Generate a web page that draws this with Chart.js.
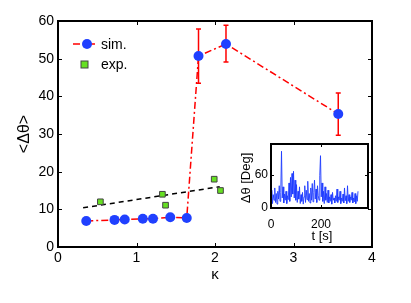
<!DOCTYPE html>
<html>
<head>
<meta charset="utf-8">
<script src="https://cdn.jsdelivr.net/npm/chart.js@4.4.1/dist/chart.umd.min.js"></script>
<style>
  html, body { margin: 0; padding: 0; background: #fff; }
  #wrap { position: relative; width: 411px; height: 303px; }
  #mainChart { position: absolute; left: 0; top: 0; }
  #insetChart { position: absolute; left: 228px; top: 130px; }
</style>
</head>
<body>
<div id="wrap">
  <canvas id="mainChart" width="411" height="303"></canvas>
  <canvas id="insetChart" width="145" height="125"></canvas>
</div>
<script>
// simulation points (kappa, mean angle) and error bars
const simK = [0.36, 0.72, 0.85, 1.08, 1.21, 1.43, 1.64, 1.79, 2.14, 3.57];
const simTheta = [6.9, 7.2, 7.3, 7.5, 7.5, 7.9, 7.7, 50.7, 53.9, 35.3];
const simErrLow = [null, null, null, null, null, null, null, 43.5, 49.1, 29.7];
const simErrHigh = [null, null, null, null, null, null, null, 57.9, 58.9, 40.9];

// experiment points
const expK = [0.54, 1.33, 1.37, 1.99, 2.07];
const expTheta = [12.0, 14.0, 11.1, 18.0, 15.0];

// dashed fit through the experiment
const fitK = [0.32, 2.06];
const fitTheta = [10.4, 16.0];

// inset time series, t in seconds and angle in degrees
const insetT = [0, 3, 6, 9, 12, 15, 18, 21, 24, 27, 30, 33, 36, 39, 42, 45, 48, 51, 54, 57,
  60, 63, 66, 69, 72, 75, 78, 81, 84, 87, 90, 93, 96, 99, 102, 105, 108, 111, 114, 117,
  120, 123, 126, 129, 132, 135, 138, 141, 144, 147, 150, 153, 156, 159, 162, 165, 168, 171, 174, 177,
  180, 183, 186, 189, 192, 195, 198, 201, 204, 207, 210, 213, 216, 219, 222, 225, 228, 231, 234, 237,
  240, 243, 246, 249, 252, 255, 258, 261, 264, 267, 270, 273, 276, 279, 282, 285, 288, 291, 294, 297,
  300, 303, 306, 309, 312, 315, 318, 321, 324, 327, 330, 333, 336, 339, 342, 345, 348];
const insetDeg = [12, 32, 8, 24, 14, 36, 10, 26, 7, 30, 16, 40, 12, 28, 102, 18, 38, 9, 25, 14,
  30, 8, 22, 15, 45, 12, 55, 20, 62, 25, 66, 18, 50, 14, 42, 10, 30, 16, 38, 8,
  24, 12, 28, 7, 20, 40, 10, 32, 15, 48, 12, 26, 9, 36, 14, 44, 11, 28, 50, 16,
  34, 10, 40, 22, 14, 58, 94, 20, 45, 12, 30, 8, 38, 14, 26, 10, 32, 9, 20, 12,
  24, 7, 28, 14, 18, 9, 22, 12, 34, 10, 20, 14, 30, 8, 18, 12, 25, 9, 36, 13,
  22, 8, 40, 12, 24, 10, 20, 14, 28, 9, 18, 11, 26, 8, 22, 12, 30];

const mainTicksX = [0, 1, 2, 3, 4];
const mainTicksY = [0, 10, 20, 30, 40, 50, 60];
const insetTicksX = [0, 200];
const insetTicksY = [0, 60];

const FONT = '"Liberation Sans", Arial, Helvetica, sans-serif';
Chart.defaults.font.family = FONT;
Chart.defaults.font.size = 14;
Chart.defaults.color = '#000';

const BLUE = 'rgb(32,64,255)';
const RED = '#ff0000';
const GREEN = '#66e022';

function pts(xs, ys) {
    return xs.map((x, i) => ({ x: x, y: ys[i] }));
}

function fixedTicks(values) {
    return scale => { scale.ticks = values.map(v => ({ value: v })); };
}

// box with inward ticks on all four sides
function drawBox(chart, ticksX, ticksY, len) {
    const ctx = chart.ctx;
    const a = chart.chartArea;
    const sx = chart.scales.x, sy = chart.scales.y;
    ctx.save();
    ctx.strokeStyle = '#000';
    ctx.lineWidth = 1;
    ticksX.forEach(v => {
        const px = Math.round(sx.getPixelForValue(v)) + 0.5;
        ctx.beginPath();
        ctx.moveTo(px, a.bottom); ctx.lineTo(px, a.bottom - len);
        ctx.moveTo(px, a.top); ctx.lineTo(px, a.top + len);
        ctx.stroke();
    });
    ticksY.forEach(v => {
        const py = Math.round(sy.getPixelForValue(v)) + 0.5;
        ctx.beginPath();
        ctx.moveTo(a.left, py); ctx.lineTo(a.left + len, py);
        ctx.moveTo(a.right, py); ctx.lineTo(a.right - len, py);
        ctx.stroke();
    });
    ctx.lineWidth = 2;
    ctx.strokeRect(a.left, a.top, a.right - a.left, a.bottom - a.top);
    ctx.restore();
}

const errorBars = {
    id: 'errorBars',
    beforeDatasetsDraw(chart) {
        const ctx = chart.ctx;
        const sx = chart.scales.x, sy = chart.scales.y;
        ctx.save();
        ctx.strokeStyle = RED;
        ctx.lineWidth = 1.5;
        simK.forEach((k, i) => {
            if (simErrLow[i] === null) return;
            const px = sx.getPixelForValue(k);
            const lo = sy.getPixelForValue(simErrLow[i]);
            const hi = sy.getPixelForValue(simErrHigh[i]);
            ctx.beginPath();
            ctx.moveTo(px, lo); ctx.lineTo(px, hi);
            ctx.moveTo(px - 2.5, lo); ctx.lineTo(px + 2.5, lo);
            ctx.moveTo(px - 2.5, hi); ctx.lineTo(px + 2.5, hi);
            ctx.stroke();
        });
        ctx.restore();
    }
};

const mainDecor = {
    id: 'mainDecor',
    afterDraw(chart) {
        const ctx = chart.ctx;
        drawBox(chart, mainTicksX, mainTicksY, 4);
        ctx.save();
        ctx.fillStyle = '#000';
        ctx.font = '14px ' + FONT;
        ctx.textBaseline = 'middle';

        // legend
        ctx.strokeStyle = RED;
        ctx.lineWidth = 1.5;
        ctx.setLineDash([7, 3, 2, 3]);
        ctx.beginPath();
        ctx.moveTo(73, 44); ctx.lineTo(98, 44);
        ctx.stroke();
        ctx.setLineDash([]);
        ctx.fillStyle = BLUE;
        ctx.beginPath();
        ctx.arc(87, 44, 5, 0, Math.PI * 2);
        ctx.fill();
        ctx.fillStyle = GREEN;
        ctx.strokeStyle = '#444';
        ctx.lineWidth = 1;
        ctx.fillRect(81, 61, 7, 7);
        ctx.strokeRect(81, 61, 7, 7);
        ctx.fillStyle = '#000';
        ctx.textAlign = 'left';
        ctx.fillText('sim.', 101, 45);
        ctx.fillText('exp.', 101, 65);

        // axis titles
        ctx.textAlign = 'center';
        ctx.font = '15px ' + FONT;
        ctx.fillText('\u03ba', 215, 275);
        ctx.font = '16px ' + FONT;
        ctx.translate(25, 134);
        ctx.rotate(-Math.PI / 2);
        ctx.fillText('<\u0394\u03b8>', 0, 0);
        ctx.restore();
    }
};

function renderMain() {
    const ctx = document.getElementById('mainChart').getContext('2d');
    new Chart(ctx, {
        type: 'scatter',
        data: {
            datasets: [
                {
                    label: 'sim.',
                    data: pts(simK, simTheta),
                    showLine: true,
                    borderColor: RED,
                    borderWidth: 1.5,
                    borderDash: [7, 3, 2, 3],
                    pointRadius: 5,
                    pointBackgroundColor: BLUE,
                    pointBorderColor: BLUE,
                    pointBorderWidth: 0,
                    order: 0
                },
                {
                    label: 'exp.',
                    data: pts(expK, expTheta),
                    pointStyle: 'rect',
                    pointRadius: 4,
                    backgroundColor: GREEN,
                    borderColor: '#444',
                    borderWidth: 1,
                    order: 1
                },
                {
                    label: 'fit',
                    data: pts(fitK, fitTheta),
                    showLine: true,
                    borderColor: '#000',
                    borderWidth: 1.5,
                    borderDash: [5, 4],
                    pointRadius: 0,
                    order: 2
                }
            ]
        },
        options: {
            responsive: false,
            animation: false,
            events: [],
            layout: { padding: { left: 0, right: 39, top: 21, bottom: 0 } },
            plugins: { legend: { display: false }, tooltip: { enabled: false } },
            scales: {
                x: {
                    type: 'linear', min: 0, max: 4,
                    ticks: { padding: 3, maxRotation: 0 },
                    grid: { display: false, drawTicks: false },
                    border: { display: false },
                    afterBuildTicks: fixedTicks(mainTicksX),
                    afterFit: s => { s.height = 56; }
                },
                y: {
                    type: 'linear', min: 0, max: 60,
                    ticks: { padding: 4 },
                    grid: { display: false, drawTicks: false },
                    border: { display: false },
                    afterBuildTicks: fixedTicks(mainTicksY),
                    afterFit: s => { s.width = 58; }
                }
            }
        },
        plugins: [errorBars, mainDecor]
    });
}

const insetDecor = {
    id: 'insetDecor',
    beforeDraw(chart) {
        const a = chart.chartArea;
        chart.ctx.save();
        chart.ctx.fillStyle = '#fff';
        chart.ctx.fillRect(a.left, a.top, a.right - a.left, a.bottom - a.top);
        chart.ctx.restore();
    },
    afterDraw(chart) {
        const ctx = chart.ctx;
        drawBox(chart, insetTicksX, insetTicksY, 3);
        ctx.save();
        ctx.fillStyle = '#000';
        ctx.font = '13px ' + FONT;
        ctx.textAlign = 'center';
        ctx.textBaseline = 'middle';
        ctx.fillText('t [s]', 94, 106);
        ctx.translate(18, 48);
        ctx.rotate(-Math.PI / 2);
        ctx.fillText('\u0394\u03b8 [Deg]', 0, 0);
        ctx.restore();
    }
};

function renderInset() {
    const ctx = document.getElementById('insetChart').getContext('2d');
    new Chart(ctx, {
        type: 'line',
        data: {
            datasets: [{
                data: pts(insetT, insetDeg),
                borderColor: 'rgba(30,60,255,0.9)',
                borderWidth: 1,
                pointRadius: 0,
                tension: 0
            }]
        },
        options: {
            responsive: false,
            animation: false,
            events: [],
            layout: { padding: { left: 0, right: 5, top: 14, bottom: 0 } },
            plugins: { legend: { display: false }, tooltip: { enabled: false } },
            scales: {
                x: {
                    type: 'linear', min: 0, max: 388,
                    ticks: { padding: 9, maxRotation: 0, font: { size: 12 } },
                    grid: { display: false, drawTicks: false },
                    border: { display: false },
                    afterBuildTicks: fixedTicks(insetTicksX),
                    afterFit: s => { s.height = 47; }
                },
                y: {
                    type: 'linear', min: 0, max: 115,
                    ticks: { padding: 3, font: { size: 12 } },
                    grid: { display: false, drawTicks: false },
                    border: { display: false },
                    afterBuildTicks: fixedTicks(insetTicksY),
                    afterFit: s => { s.width = 43; }
                }
            }
        },
        plugins: [insetDecor]
    });
}

document.addEventListener('DOMContentLoaded', () => {
    renderMain();
    renderInset();
});
</script>
</body>
</html>
